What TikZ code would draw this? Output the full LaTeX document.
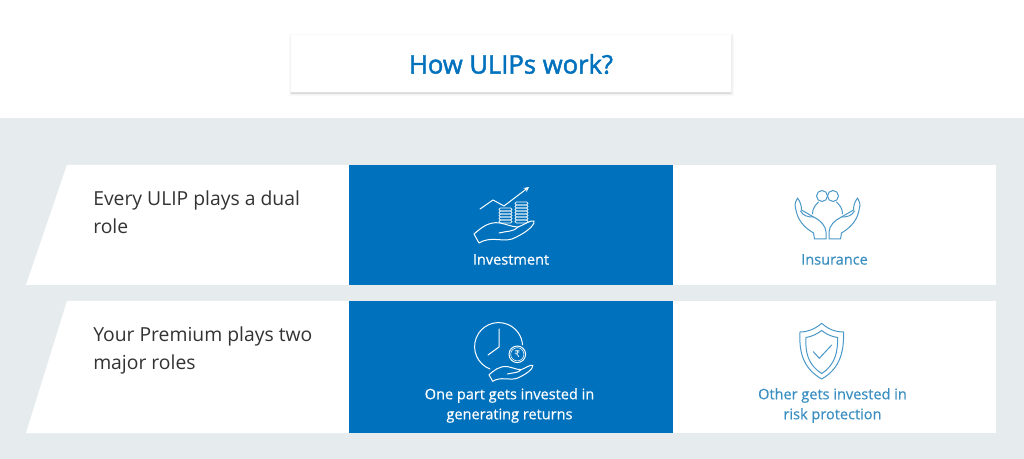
\documentclass[tikz,border=0pt]{standalone}
\usepackage{fontspec}
\setmainfont{Open Sans}
\newfontfamily\titlefont[FakeBold=1.8]{Open Sans}
\newfontfamily\labelfont[FakeBold=0.5]{Open Sans}
\newfontfamily\symbolfont{DejaVu Sans}
\usetikzlibrary{shadows}
\definecolor{pageback}{HTML}{E6ECEE}
\definecolor{ulipblue}{HTML}{0071BC}
\definecolor{iconblue}{HTML}{4A98C8}
\definecolor{labelblue}{HTML}{3B8FC2}
\definecolor{bodytext}{HTML}{333333}
\tikzset{
  softedge/.style={general shadow={draw=black,fill=black,line width=#1,opacity=.022,shadow xshift=.3pt,shadow yshift=-.8pt}},
  titlebox/.style={fill=white,minimum width=440*0.75pt,minimum height=57*0.75pt,inner sep=0pt,text=ulipblue,font=\titlefont\fontsize{19.2}{24}\selectfont,
    softedge=4pt,softedge=2.5pt,softedge=1pt},
  bluecell/.style={fill=ulipblue,minimum width=324*0.75pt,inner sep=0pt},
  whitecell/.style={fill=white,minimum width=323*0.75pt,inner sep=0pt},
  rowtext/.style={anchor=north west,inner sep=0pt,align=left,text=bodytext,font=\fontsize{14.5}{20.3}\selectfont},
  whitelabel/.style={inner sep=0pt,align=center,text=white,font=\labelfont\fontsize{10.9}{15}\selectfont},
  bluelabel/.style={inner sep=0pt,align=center,text=labelblue,font=\labelfont\fontsize{10.9}{15}\selectfont},
  iconline/.style={line width=.75pt,line join=round,line cap=round},
  coinline/.style={line width=.5pt,rounded corners=1pt},
  openhand/.pic={
    \draw[iconline] (0,12) .. controls (6,7) and (14,-1) .. (26,1) .. controls (32,2) and (38,5) .. (44,5)
      .. controls (50,3) and (56,-2) .. (60,-1) .. controls (61,4) and (50,12) .. (38,17)
      .. controls (28,20) and (16,14) .. (5,21) -- cycle;
    \draw[iconline] (25,11) .. controls (32,9) and (40,10) .. (44,5);
  }
}
\begin{document}
\begin{tikzpicture}[x=0.75pt,y=-0.75pt]
  \useasboundingbox (0,0) rectangle (1024,459);
  \fill[white] (0,0) rectangle (1024,118);
  \fill[pageback] (0,118) rectangle (1024,459);

  \node[titlebox] (howtitle) at (511,64) {How ULIPs work?};

  % first row
  \fill[white] (67,165) -- (349,165) -- (349,285) -- (26,285) -- cycle;
  \node[bluecell,minimum height=120*0.75pt] (investcell) at (511,225) {};
  \node[whitecell,minimum height=120*0.75pt] (insurecell) at (834.5,225) {};
  \node[rowtext] (dualtext) at (93,191) {Every ULIP plays a dual\\role};
  \node[whitelabel] (investlabel) at (511,259.5) {Investment};
  \node[bluelabel] (insurelabel) at (834.5,259.5) {Insurance};

  % second row
  \fill[white] (67,301) -- (349,301) -- (349,433) -- (26,433) -- cycle;
  \node[bluecell,minimum height=132*0.75pt] (returncell) at (511,367) {};
  \node[whitecell,minimum height=132*0.75pt] (riskcell) at (834.5,367) {};
  \node[rowtext] (premiumtext) at (93,327) {Your Premium plays two\\major roles};
  \node[whitelabel] (returnlabel) at (509.5,405.5) {One part gets invested in\\generating returns};
  \node[bluelabel] (risklabel) at (832.5,405.5) {Other gets invested in\\risk protection};

  % investment icon
  \begin{scope}[white]
    \draw[iconline,->,>=stealth] (480,209) -- (493,200) -- (504,206) -- (529,187);
    \foreach \y in {208,211,...,220}
      \draw[coinline] (499,\y) rectangle (512,\y+3);
    \foreach \y in {202,205,...,220}
      \draw[coinline] (515,\y) rectangle (528,\y+3);
    \pic at (474,222) {openhand};
  \end{scope}

  % insurance icon
  \begin{scope}[iconblue]
    \draw[iconline] (822,196) circle [radius=5.5];
    \draw[iconline] (833,196) circle [radius=5.5];
    \foreach \s in {1,-1} {
      \begin{scope}[shift={(827.5,0)},xscale=\s]
        \draw[iconline] (-15,214) .. controls (-15,208) and (-12,205) .. (-9,202);
        \draw[iconline] (-1.5,239) -- (-13,239) -- (-14,233) .. controls (-24,227) and (-30,220) .. (-32,208)
          .. controls (-33,204) and (-32,201) .. (-30,198) .. controls (-27,202) and (-26,206) .. (-26,210)
          -- (-14,217) .. controls (-6,221) and (-2,226) .. (-1.5,232) -- cycle;
        \draw[iconline] (-27,211) .. controls (-24,216) and (-20,217) .. (-14,217);
      \end{scope}
    }
  \end{scope}

  % clock icon
  \begin{scope}[white]
    \draw[iconline] (490,369) arc [start angle=111,end angle=356,radius=24];
    \draw[iconline] (499,329) -- (499,347) -- (488,355);
    \draw[iconline] (517.3,354.3) circle [radius=8.3];
    \draw[line width=.4pt] (517.3,354.3) circle [radius=6.6];
    \node[inner sep=0pt,font=\symbolfont\fontsize{7}{7}\selectfont] (rupee) at (517.3,354.3) {₹};
    \pic[scale=.73] at (489,366) {openhand};
  \end{scope}

  % shield icon
  \begin{scope}[iconblue]
    \draw[iconline] (821.7,323.3) .. controls (815,329) and (808,332) .. (800,332)
      .. controls (799,350) and (802,368) .. (821.7,379)
      .. controls (841,368) and (844,350) .. (843.5,332)
      .. controls (835,332) and (828,329) .. (821.7,323.3) -- cycle;
    \draw[iconline] (821.7,330.5) .. controls (817,334) and (812,336.5) .. (806,337.5)
      .. controls (805,352) and (808,365) .. (821.7,373.5)
      .. controls (835,365) and (838,352) .. (837.5,337.5)
      .. controls (831,336.5) and (826,334) .. (821.7,330.5) -- cycle;
    \draw[iconline] (813.3,351.7) -- (819.3,358.3) -- (831.7,345);
  \end{scope}
\end{tikzpicture}
\end{document}
